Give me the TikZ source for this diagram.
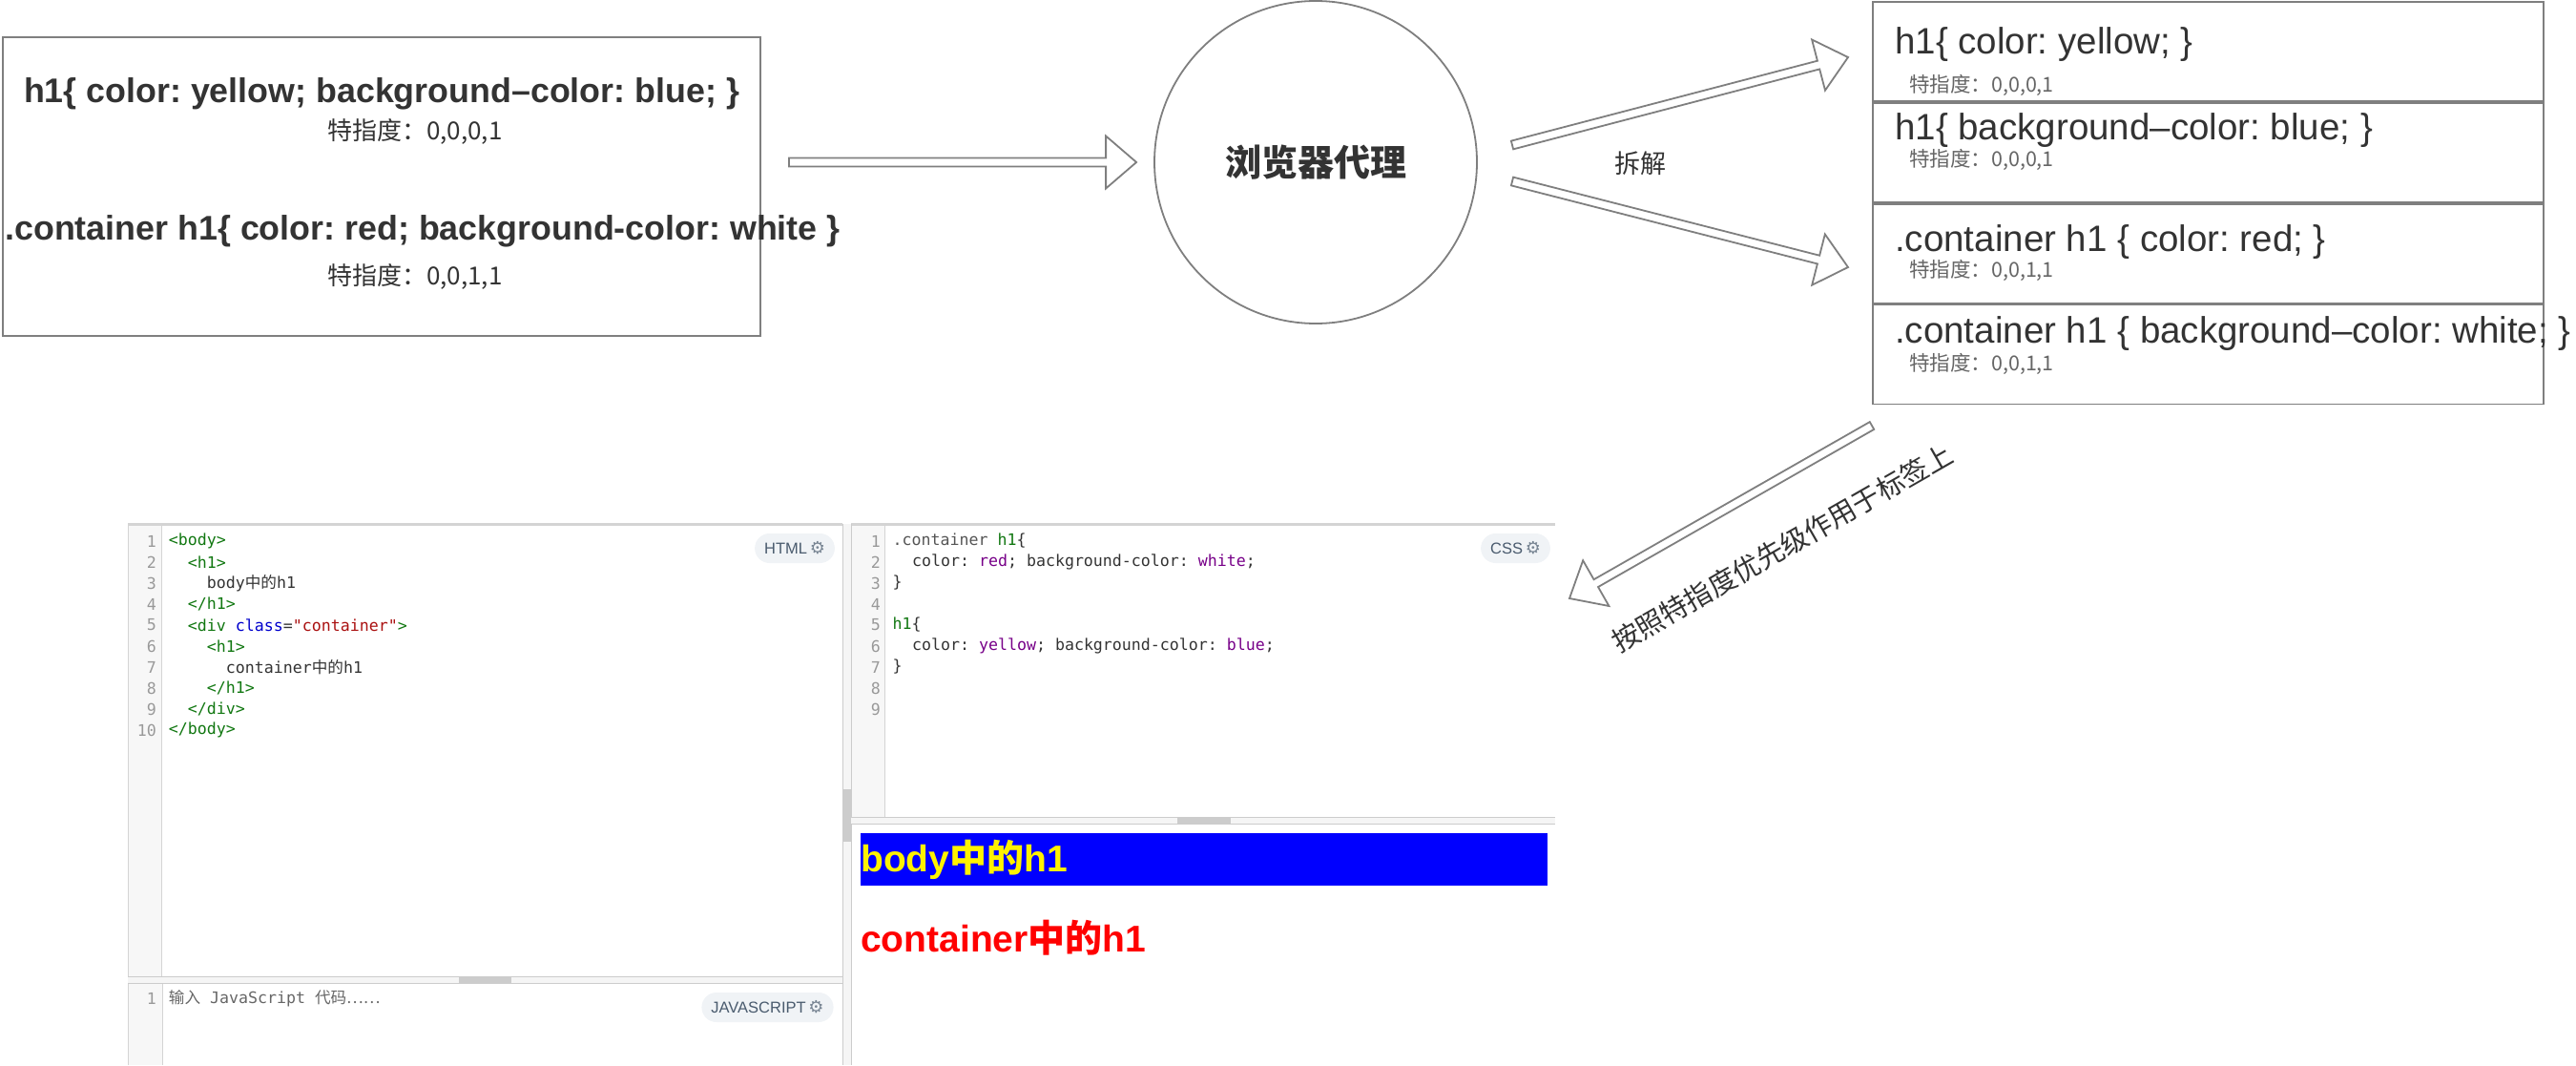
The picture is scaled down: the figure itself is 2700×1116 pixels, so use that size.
\documentclass[tikz,border=0pt]{standalone}
\usepackage{fontspec}
\setmainfont{Liberation Sans}
\setmonofont{DejaVu Sans Mono}
\newfontfamily\cjk{Noto Sans CJK SC}
\newfontfamily\symfont{DejaVu Sans}
\usetikzlibrary{calc,positioning}

\definecolor{linec}{HTML}{7F7F7F}
\definecolor{txt}{HTML}{333333}
\definecolor{subtxt}{HTML}{666666}
\definecolor{edline}{HTML}{D4D4D4}
\definecolor{gutterbg}{HTML}{F7F7F7}
\definecolor{handle}{HTML}{CCCCCC}
\definecolor{lnum}{HTML}{999999}
\definecolor{tagc}{HTML}{117711}
\definecolor{attrc}{HTML}{0000CC}
\definecolor{strc}{HTML}{AA1111}
\definecolor{kwc}{HTML}{770088}
\definecolor{qualc}{HTML}{555555}
\definecolor{pilltxt}{HTML}{4A5B6E}
\definecolor{pillbg}{HTML}{F0F3F6}

\newcommand\zh[1]{{\cjk #1}}
\newcommand\htag[1]{\textcolor{tagc}{#1}}
\newcommand\hattr[1]{\textcolor{attrc}{#1}}
\newcommand\hstr[1]{\textcolor{strc}{#1}}
\newcommand\ckw[1]{\textcolor{kwc}{#1}}
\newcommand\cqual[1]{\textcolor{qualc}{#1}}
\newcommand\gear{{\symfont\fontsize{18}{18}\selectfont\color{pilltxt!75}⚙}}

% outlined block arrow from #1 to #2
\newcommand\hollowarrow[2]{%
  \draw[blockarrow]
    ($(#1)!4.5pt!90:(#2)$) --
    ($(#2)!32pt!(#1)!4.5pt!90:(#2)$) --
    ($(#2)!32pt!(#1)!27.5pt!90:(#2)$) --
    (#2) --
    ($(#2)!32pt!(#1)!27.5pt!-90:(#2)$) --
    ($(#2)!32pt!(#1)!4.5pt!-90:(#2)$) --
    ($(#1)!4.5pt!-90:(#2)$) -- cycle;
}

\tikzset{
  outline/.style={draw=linec, line width=1.8pt},
  blockarrow/.style={draw=linec, line width=1.8pt, line join=miter, fill=white},
  ruletext/.style={inner sep=0pt, text=txt, font=\fontsize{35.8}{40}\selectfont\bfseries},
  spectext/.style={inner sep=0pt, text=txt, anchor=west, font=\fontsize{26}{30}\selectfont},
  celltext/.style={inner sep=0pt, text=txt, anchor=west, font=\fontsize{38.5}{44}\selectfont},
  cellspec/.style={inner sep=0pt, text=subtxt, anchor=west, font=\fontsize{21.5}{25}\selectfont},
  cell/.style={outline, minimum width=703, minimum height=104},
  code/.style={inner sep=0pt, anchor=west, text=txt, font=\ttfamily\fontsize{16.6}{20}\selectfont},
  lineno/.style={inner sep=0pt, anchor=east, text=lnum, font=\ttfamily\fontsize{16.6}{20}\selectfont},
  pill/.style={fill=pillbg, rounded corners=15.5pt, minimum height=31, inner xsep=10pt,
    inner ysep=0pt, text=pilltxt, font=\fontsize{16.5}{18}\selectfont},
  result/.style={inner sep=0pt, anchor=west, font=\fontsize{39}{44}\selectfont\bfseries},
}

\begin{document}
\frenchspacing
\begin{tikzpicture}[x=1pt, y=-1pt]
    \useasboundingbox (0,0) rectangle (2700,1116);

    % Source rules
    \node[outline, minimum width=794, minimum height=313] (rules) at (400,195.5) {};
    \node[ruletext] (r1) at (400,98) {h1\{ color: yellow; background–color: blue; \}};
    \node[spectext] (s1) at (343,138) {\zh{特指度：0,0,0,1}};
    \node[ruletext] (r2) at (443,242) {.container h1\{ color: red; background-color: white \}};
    \node[spectext] (s2) at (343,290) {\zh{特指度：0,0,1,1}};

    % Browser
    \node[outline, circle, minimum size=338] (proxy) at (1379,170) {};
    \node[inner sep=0pt, text=txt, font=\cjk\bfseries\fontsize{38}{42}\selectfont] (proxylabel) at (proxy.center) {浏览器代理};
    \node[inner sep=0pt, text=txt, font=\cjk\fontsize{27}{30}\selectfont] (split) at (1719,171) {拆解};

    % Split rules
    \node[cell] (c1) at (2314.5,54) {};
    \node[cell, below=0pt of c1] (c2) {};
    \node[cell, below=0pt of c2] (c3) {};
    \node[cell, below=0pt of c3] (c4) {};
    \node[celltext] (t1) at (1986,47) {h1\{ color: yellow; \}};
    \node[cellspec] (p1) at (2001,89) {\zh{特指度：0,0,0,1}};
    \node[celltext] (t2) at (1986,137) {h1\{ background–color: blue; \}};
    \node[cellspec] (p2) at (2001,167) {\zh{特指度：0,0,0,1}};
    \node[celltext] (t3) at (1986,254) {.container h1 \{ color: red; \}};
    \node[cellspec] (p3) at (2001,283) {\zh{特指度：0,0,1,1}};
    \node[celltext] (t4) at (1986,350) {.container h1 \{ background–color: white; \}};
    \node[cellspec] (p4) at (2001,381) {\zh{特指度：0,0,1,1}};

    % Arrows
    \coordinate (intail) at (827,170);
    \coordinate (intip) at ([xshift=-18pt]proxy.west);
    \coordinate (uptail) at (1585,152);
    \coordinate (uptip) at (1937,60);
    \coordinate (dntail) at (1585,190);
    \coordinate (dntip) at (1937,280);
    \coordinate (aptail) at (1962,446);
    \coordinate (aptip) at (1645,627);
    \hollowarrow{intail}{intip}
    \hollowarrow{uptail}{uptip}
    \hollowarrow{dntail}{dntip}
    \hollowarrow{aptail}{aptip}
    \node[rotate=29.8, inner sep=0pt, text=txt, font=\cjk\fontsize{29}{32}\selectfont] (apply) at (1868,574) {按照特指度优先级作用于标签上};

    % Editor frame
    \fill[gutterbg] (134,551) rectangle (169,1023);
    \fill[gutterbg] (134,1030) rectangle (170,1116);
    \fill[gutterbg] (892,551) rectangle (927,856);
    \draw[edline, line width=3pt] (134,549) -- (883,549);
    \draw[edline, line width=3pt] (892,549) -- (1630,549);
    \draw[edline] (134,549) -- (134,1116);
    \draw[edline] (169,551) -- (169,1023);
    \draw[edline] (170,1030) -- (170,1116);
    \draw[edline] (927,551) -- (927,856);
    % splitters
    \fill[gray!8] (883,549) rectangle (892,1116);
    \fill[handle] (883,827) rectangle (892,882);
    \draw[handle] (883,549) -- (883,1116);
    \draw[handle] (892,549) -- (892,1116);
    \fill[gray!8] (134,1023) rectangle (883,1030);
    \fill[handle] (481,1023) rectangle (536,1030);
    \draw[handle] (134,1023) -- (883,1023);
    \draw[handle] (134,1030) -- (883,1030);
    \fill[gray!8] (892,856) rectangle (1630,863);
    \fill[handle] (1234,856) rectangle (1290,863);
    \draw[handle] (892,856) -- (1630,856);
    \draw[handle] (892,863) -- (1630,863);

    % HTML pane
    \foreach \n in {1,...,10}
        \node[lineno] (hn\n) at (164,545+22*\n) {\n};
    \foreach \n/\ind/\src in {
        1/0/{\htag{<body>}},
        2/1/{\htag{<h1>}},
        3/2/{body\zh{中的}h1},
        4/1/{\htag{</h1>}},
        5/1/{\htag{<div} \hattr{class}=\hstr{"container"}\htag{>}},
        6/2/{\htag{<h1>}},
        7/3/{container\zh{中的}h1},
        8/2/{\htag{</h1>}},
        9/1/{\htag{</div>}},
        10/0/{\htag{</body>}}}
        \node[code] (hl\n) at (176.7+20*\ind,545+22*\n) {\src};
    \node[pill] (htmltag) at (833,574.5) {HTML\,\gear};

    % CSS pane
    \foreach \n in {1,...,9}
        \node[lineno] (cn\n) at (923,545+22*\n) {\n};
    \foreach \n/\ind/\src in {
        1/0/{\cqual{.container} \htag{h1}\{},
        2/1/{color: \ckw{red}; background-color: \ckw{white};},
        3/0/{\}},
        5/0/{\htag{h1}\{},
        6/1/{color: \ckw{yellow}; background-color: \ckw{blue};},
        7/0/{\}}}
        \node[code] (cl\n) at (935.5+20.4*\ind,545+22*\n) {\src};
    \node[pill] (csstag) at (1588.5,574.5) {CSS\,\gear};

    % JavaScript pane
    \node[lineno] (jn1) at (164,1046) {1};
    \node[code, text=subtxt] (jl1) at (176.7,1046) {\zh{输入} JavaScript \zh{代码……}};
    \node[pill] (jstag) at (804.5,1055.5) {JAVASCRIPT\,\gear};

    % Result pane
    \fill[blue] (902,873) rectangle (1622,928);
    \node[result, text=yellow] (out1) at (902,901) {body\zh{中的}h1};
    \node[result, text=red] (out2) at (902,983) {container\zh{中的}h1};
\end{tikzpicture}
\end{document}
